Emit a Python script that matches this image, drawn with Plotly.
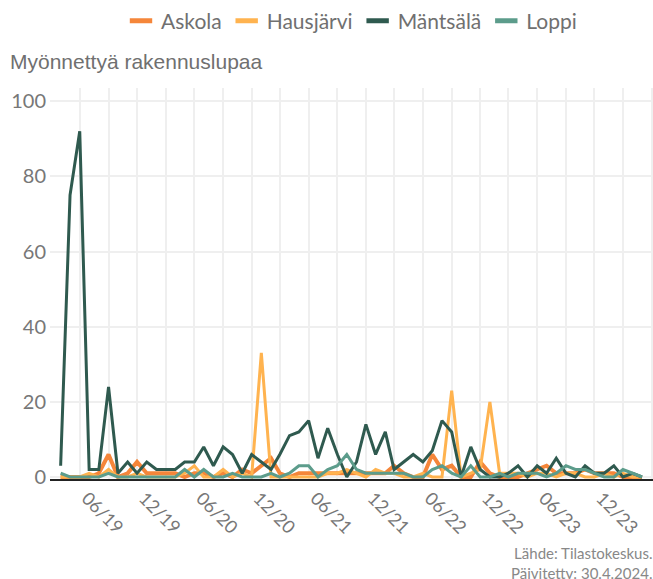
import pandas as pd
import plotly.graph_objects as go

# Monthly building permits, 04/2019 .. 05/2024
months = pd.date_range("2019-04-01", periods=62, freq="MS")

askola = [0, 0, 0, 0, 1, 6, 0, 1, 4, 1,
          1, 1, 1, 0, 1, 1, 0, 1, 0, 2,
          1, 3, 5, 1, 0, 1, 1, 1, 1, 1,
          1, 1, 1, 1, 1, 3, 1, 0, 0, 6,
          2, 3, 0, 0, 4, 1, 0, 0, 0, 1,
          2, 3, 1, 1, 1, 2, 1, 1, 1, 0,
          0, 0]
hausjarvi = [0, 0, 0, 1, 0, 2, 0, 0, 1, 0,
             0, 0, 0, 1, 3, 0, 0, 2, 0, 1,
             0, 33, 0, 0, 0, 0, 0, 0, 1, 1,
             2, 1, 0, 2, 1, 1, 0, 0, 1, 0,
             0, 23, 0, 1, 2, 20, 1, 1, 1, 0,
             1, 1, 0, 1, 1, 0, 0, 1, 0, 1,
             0, 0]
mantsala = [3, 75, 92, 2, 2, 24, 1, 4, 1, 4,
            2, 2, 2, 4, 4, 8, 3, 8, 6, 1,
            6, 4, 2, 6, 11, 12, 15, 5, 13, 6,
            0, 4, 14, 6, 12, 2, 4, 6, 4, 7,
            15, 12, 0, 8, 2, 0, 0, 1, 3, 0,
            3, 1, 5, 1, 0, 3, 1, 1, 3, 0,
            1, 0]
loppi = [1, 0, 0, 0, 0, 1, 0, 0, 0, 0,
         0, 0, 0, 2, 0, 2, 0, 0, 1, 0,
         0, 0, 1, 0, 1, 3, 3, 0, 2, 3,
         6, 2, 1, 1, 1, 1, 1, 0, 0, 2,
         3, 1, 0, 3, 0, 0, 1, 0, 1, 1,
         1, 0, 1, 3, 2, 2, 1, 0, 0, 2,
         1, 0]

names = ["Askola", "Hausjärvi", "Mäntsälä", "Loppi"]
colors = ["#F5863A", "#FFB34F", "#2F5A4F", "#5C9C8B"]
widths = [4, 3, 3, 3]
series = [askola, hausjarvi, mantsala, loppi]

y_ticks = [0, 20, 40, 60, 80, 100]
captions = ["Lähde: Tilastokeskus.", "Päivitetty: 30.4.2024."]

W, H = 653, 579
fig = go.Figure()
for name, vals, col, w in zip(names, series, colors, widths):
    fig.add_trace(go.Scatter(x=months, y=vals, mode="lines", name=name,
                             line=dict(color=col, width=w), showlegend=False))
# legend-only entries (short bars)
for name, col in zip(names, colors):
    fig.add_trace(go.Scatter(x=[None], y=[None], mode="markers", name=name,
                             marker=dict(symbol="line-ew", size=16, color=col,
                                         line=dict(color=col, width=6))))

grid = "#EFEFEF"
fig.update_layout(
    width=W, height=H,
    margin=dict(l=50, r=0, t=88, b=100),
    paper_bgcolor="white", plot_bgcolor="white",
    hovermode=False,
    font=dict(family="Lato", color="#777777"),
    title=dict(text="Myönnettyä rakennuslupaa", xref="container", yref="container",
               x=10 / W, xanchor="left", y=1 - 62 / H, yanchor="middle",
               font=dict(family="Liberation Sans", size=21, color="#707070")),
    legend=dict(orientation="h", x=0.5, xanchor="center", yref="container",
                y=1 - 21 / H, yanchor="middle",
                font=dict(family="Lato", size=21, color="#707070")),
    xaxis=dict(type="date", range=["2019-02-26", "2024-06-05"],
               tick0="2019-06-01", dtick="M6", tickformat="%m/%y",
               tickangle=45, tickfont=dict(size=18, color="#777777"),
               ticklabelshift=7,
               showgrid=True, gridcolor=grid, gridwidth=2,
               minor=dict(dtick="M3", tick0="2019-06-01", showgrid=True,
                          gridcolor=grid, gridwidth=2),
               showline=True, linecolor="#222222", linewidth=1.5,
               zeroline=False, ticks=""),
    yaxis=dict(range=[-0.53, 103.5], tickvals=y_ticks,
               tickfont=dict(size=20, color="#777777"),
               ticklabelstandoff=3,
               showgrid=True, gridcolor=grid, gridwidth=2,
               zeroline=False, showline=False, ticks=""),
)
fig.add_annotation(text="<br>".join(captions), xref="paper", yref="paper",
                   x=1, xanchor="right", y=(479 - 563) / 391, yanchor="middle",
                   align="right", borderpad=0,
                   showarrow=False, font=dict(family="Lato", size=15, color="#888888"))

fig.write_html("out.html",
               config={"displayModeBar": False},
               post_script="document.body.style.margin='0';"
                           "document.documentElement.style.overflow='hidden';")
